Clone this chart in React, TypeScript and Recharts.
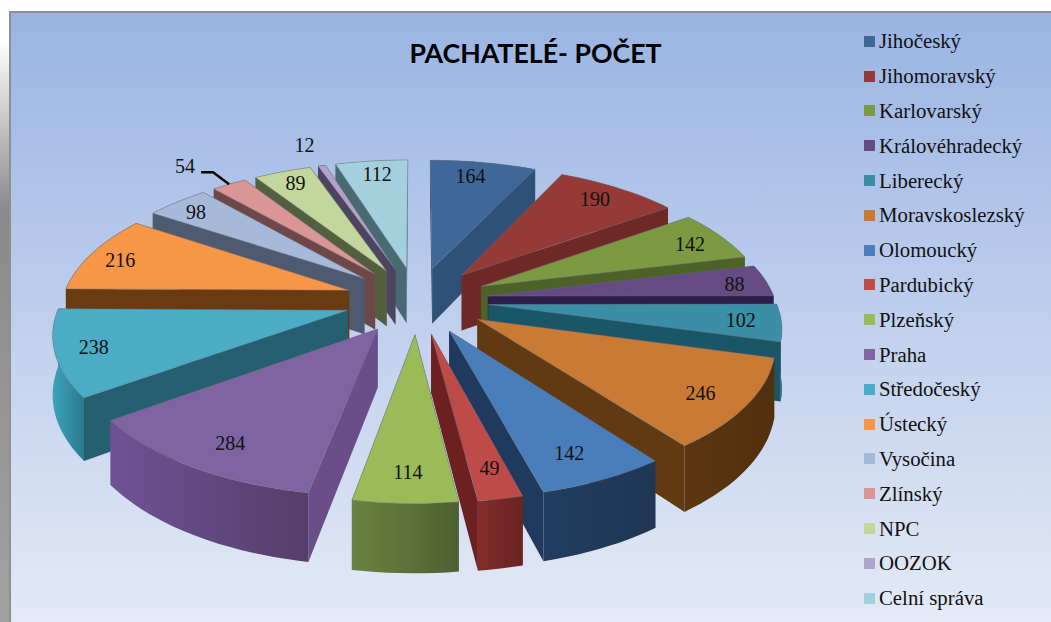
import { PieChart, Pie, Legend } from "recharts";

const regions = [
  "Jihočeský", "Jihomoravský", "Karlovarský", "Královéhradecký", "Liberecký", "Moravskoslezský",
  "Olomoucký", "Pardubický", "Plzeňský", "Praha", "Středočeský", "Ústecký", "Vysočina", "Zlínský",
  "NPC", "OOZOK", "Celní správa",
];
const counts = [164, 190, 142, 88, 102, 246, 142, 49, 114, 284, 238, 216, 98, 54, 89, 12, 112];

const topColors = [
  "#3f6797", "#963a38", "#7c9a41", "#654a83", "#3a8ea5", "#c97b35", "#4a7ebb", "#bf4b48", "#9bbb59",
  "#8064a2", "#4bacc6", "#f79646", "#a7b9d8", "#d99694", "#c3d69b", "#b3a2c7", "#a4d0dd",
];
const wallColors = [
  "#2f5077", "#6f2a28", "#4d6128", "#2e1f4a", "#1b5666", "#623a12", "#1f3a5c", "#6d2020", "#566a30",
  "#6b4d8a", "#255f70", "#6a3a10", "#4d5a70", "#6e4848", "#536040", "#4d4560", "#4a6a72",
];
const arcFrom = [
  "#2f5077", "#6f2a28", "#4d6128", "#2e1f4a", "#1f6072", "#5c3610", "#223d60", "#822c2a", "#6b8340",
  "#6e5295", "#3da3bc", "#5f3510", "#4d5a70", "#6e4848", "#536040", "#4d4560", "#4a6a72",
];
const arcTo = [
  "#2f5077", "#6f2a28", "#4d6128", "#2e1f4a", "#1b5666", "#52300e", "#1f3654", "#6a2422", "#4f6030",
  "#553e6a", "#2a7a8f", "#5f3510", "#4d5a70", "#6e4848", "#536040", "#4d4560", "#4a6a72",
];

// small hand shifts for the value labels
const labelNudgeX = [-6, -2, 4, 10, 4, -3, -8, 1, 1, 8, -7, -9, -7, -6, -1, -4, 1];
const labelNudgeY = [-1, -1, 1, 1, 0, 2, -1, -3, -2, 0, 0, 1, -1, 5, -2, -2, -1];

const data = regions.map((name, i) => ({ name, value: counts[i], fill: topColors[i] }));

// projection of the tilted pie
const EXPLODE = 0.25;
const PERSP = 0.147;
const TILT = 0.463;
const DEPTH = 57;
const RAD = Math.PI / 180;

function project(p: any, angle: number, f: number) {
  const mid = p.midAngle * RAD;
  const px = EXPLODE * Math.cos(mid) + f * Math.cos(angle * RAD);
  const py = EXPLODE * Math.sin(mid) + f * Math.sin(angle * RAD);
  const w = 1 + PERSP * py;
  const R = p.outerRadius;
  return { x: p.cx + (R * px) / w, y: p.cy - (R * TILT * py) / w, d: DEPTH / w, py };
}

const path = (pts: number[][]) => "M" + pts.map((q) => q[0].toFixed(1) + " " + q[1].toFixed(1)).join("L") + "Z";

function sliceShape(target: number) {
  return (p: any) => {
    const i = regions.indexOf(p.name);
    if (i !== target) return <g />;
    const steps = Math.max(2, Math.ceil(Math.abs(p.endAngle - p.startAngle) / 2));
    const arc = [];
    for (let s = 0; s <= steps; s++) {
      arc.push(project(p, p.startAngle + ((p.endAngle - p.startAngle) * s) / steps, 1));
    }
    const tip = project(p, p.midAngle, 0);
    const first = arc[0];
    const last = arc[arc.length - 1];
    const wall = (a: any, b: any) => path([[a.x, a.y], [b.x, b.y], [b.x, b.y + b.d], [a.x, a.y + a.d]]);
    const arcWall = path([
      ...arc.map((q) => [q.x, q.y]),
      ...[...arc].reverse().map((q) => [q.x, q.y + q.d]),
    ]);
    const top = path([[tip.x, tip.y], ...arc.map((q) => [q.x, q.y])]);
    const edge = "rgba(110,115,135,0.6)";
    // far faces first
    const faces = [
      { key: "a", depth: (tip.py + first.py) / 2, d: wall(tip, first), fill: wallColors[i] },
      { key: "b", depth: (tip.py + last.py) / 2, d: wall(tip, last), fill: wallColors[i] },
      { key: "c", depth: arc[Math.floor(steps / 2)].py, d: arcWall, fill: `url(#arc${i})` },
    ].sort((a, b) => b.depth - a.depth);
    return (
      <g>
        <defs>
          <linearGradient id={"arc" + i} x1="0" y1="0" x2="1" y2="0">
            <stop offset="0" stopColor={arcFrom[i]} />
            <stop offset="1" stopColor={arcTo[i]} />
          </linearGradient>
        </defs>
        {faces.map((f) => (
          <path key={f.key} d={f.d} fill={f.fill} />
        ))}
        <path d={top} fill={topColors[i]} stroke={edge} strokeWidth={0.8} />
      </g>
    );
  };
}

// back slices first
const total = counts.reduce((a, b) => a + b, 0);
const paintOrder = counts
  .map((_, i) => {
    const before = counts.slice(0, i).reduce((a, b) => a + b, 0);
    return { i, c: Math.cos(((before + counts[i] / 2) / total) * 2 * Math.PI) };
  })
  .sort((a, b) => b.c - a.c)
  .map((o) => o.i);

function ValueLabel(p: any) {
  const far = p.name === "Zlínský" ? 1.3 : p.name === "OOZOK" ? 1.21 : 0.85;
  const pos = project(p, p.midAngle, far);
  const i = regions.indexOf(p.name);
  const text = (
    <text
      x={pos.x + labelNudgeX[i]}
      y={pos.y + labelNudgeY[i]}
      textAnchor="middle"
      dominantBaseline="central"
      fontFamily="Liberation Serif"
      fontSize={20}
      fill="#111"
    >
      {p.value}
    </text>
  );
  if (p.name !== "Zlínský") return text;
  const end = project(p, p.midAngle, 1);
  return (
    <g>
      {text}
      <polyline
        points={`${end.x},${end.y} ${end.x - 16},${end.y - 12} ${end.x - 28},${end.y - 12}`}
        fill="none"
        stroke="#000"
        strokeWidth={2.4}
      />
    </g>
  );
}

function LegendList({ payload }: any) {
  const seen = new Set();
  const items = (payload || []).filter((it: any) => {
    if (seen.has(it.value)) return false;
    seen.add(it.value);
    return true;
  });
  return (
    <div style={{ fontFamily: "Liberation Serif", fontSize: 20.8, color: "#111" }}>
      {items.map((it: any) => (
        <div key={it.value} style={{ height: 34.8, display: "flex", alignItems: "center", whiteSpace: "nowrap" }}>
          <span style={{ width: 11, height: 11, background: it.color, marginRight: 4, flex: "none" }} />
          {it.value}
        </div>
      ))}
    </div>
  );
}

export default function App() {
  return (
    <div style={{ position: "absolute", left: 0, top: 0, width: 1051, height: 622, background: "#fff", overflow: "hidden" }}>
      <div
        style={{
          position: "absolute", left: 0, top: 0, width: 9, height: 622,
          background: "linear-gradient(to bottom, #fff 40px, #8a8a8a 210px, #a2a2a2 622px)",
        }}
      />
      <div
        style={{
          position: "absolute", left: 9, top: 11, width: 1042, height: 611, boxSizing: "border-box",
          borderLeft: "2px solid #8f8f8f", borderTop: "2px solid #8f8f8f",
          background: "linear-gradient(to bottom, #9ab4e3, #e4eaf6)",
        }}
      />
      <PieChart
        width={1051}
        height={622}
        margin={{ top: 0, right: 0, bottom: 0, left: 0 }}
        style={{ position: "absolute", left: 0, top: 0 }}
      >
        <text x={535.5} y={63} textAnchor="middle" fontFamily="Lato" fontWeight={700} fontSize={26.7} fill="#000">
          PACHATELÉ- POČET
        </text>
        {paintOrder.map((idx) => (
          <Pie
            key={idx}
            data={data}
            dataKey="value"
            nameKey="name"
            cx={417}
            cy={300}
            outerRadius={287}
            startAngle={90}
            endAngle={-270}
            stroke="none"
            shape={sliceShape(idx)}
            isAnimationActive={false}
          />
        ))}
        <Pie
          data={data}
          dataKey="value"
          nameKey="name"
          cx={417}
          cy={300}
          outerRadius={287}
          startAngle={90}
          endAngle={-270}
          shape={() => <g />}
          label={ValueLabel}
          labelLine={false}
          legendType="none"
          isAnimationActive={false}
        />
        <Legend
          layout="vertical"
          content={LegendList}
          itemSorter={null}
          wrapperStyle={{ left: 864, top: 24, width: 187, bottom: "auto", right: "auto" }}
        />
      </PieChart>
    </div>
  );
}
